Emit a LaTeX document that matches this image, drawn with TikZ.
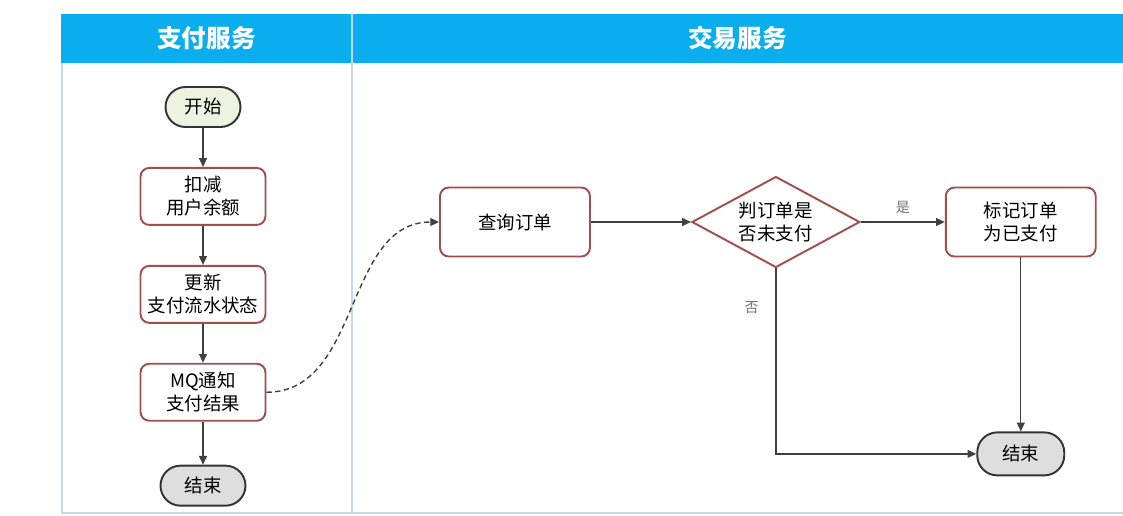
\documentclass[tikz,border=0pt]{standalone}
\usepackage{fontspec}
\setmainfont{Noto Sans CJK SC}
\usetikzlibrary{shapes.geometric, arrows.meta, positioning}
\definecolor{laneblue}{RGB}{10,174,238}
\definecolor{laneline}{RGB}{200,214,232}
\definecolor{boxred}{RGB}{160,78,78}
\definecolor{startgreen}{RGB}{238,243,225}
\definecolor{endgray}{RGB}{222,222,222}

\begin{document}
\begin{tikzpicture}[
    x=0.02cm, y=-0.02cm,
    node distance = 0.78cm and 2cm,
    every node/.style={font=\fontsize{10.5}{13}\selectfont},
    lanehead/.style={fill=laneblue, text=white, minimum height=0.98cm, inner sep=0pt,
                     font=\fontsize{14}{16}\selectfont\bfseries},
    blk/.style={draw=boxred, fill=white, rounded corners=5pt, align=center,
                minimum width=2.5cm, minimum height=1.14cm, line width=1.1pt, inner sep=1pt},
    wideblk/.style={blk, minimum width=3cm, minimum height=1.38cm},
    judge/.style={diamond, draw=boxred, fill=white, align=center, aspect=1.8,
                  minimum width=3.36cm, minimum height=1.82cm, inner sep=1pt, line width=1.1pt},
    term/.style={draw=black!80, rounded corners=0.4cm, minimum height=0.8cm, line width=1.1pt},
    line/.style={draw=black!75, -{Triangle[length=5pt,width=4.5pt]}, line width=0.8pt},
    msg/.style={line, dash pattern=on 3pt off 2pt},
    tag/.style={text=black!55, font=\fontsize{8}{10}\selectfont}
]
\useasboundingbox (0,0) rectangle (1123,515);

% -------- Swimlanes: header band, frame, divider --------
\node[lanehead, minimum width=5.82cm]  (payhead)   at (206.5,38.5) {支付服务};
\node[lanehead, minimum width=15.42cm] (tradehead) at (737.5,38.5) {交易服务};
\draw[laneline, line width=1.2pt] (62,63) -- (62,513) -- (1123,513);
\draw[laneline, line width=1.2pt] (352,14) -- (352,513);

% -------- Payment service (top to bottom) --------
\node[term, fill=startgreen, minimum width=1.5cm] (start) at (203,107) {开始};
\node[blk, below=of start]  (deduct) {扣减\\用户余额};
\node[blk, below=of deduct] (update) {更新\\支付流水状态};
\node[blk, below=of update] (notify) {MQ通知\\支付结果};
\node[term, fill=endgray, minimum width=1.7cm, below=0.86cm of notify] (payend) {结束};

% -------- Trade service (left to right) --------
\node[wideblk] (query) at (515,222) {查询订单};
\node[judge, right=2cm of query]   (check) {判订单是\\否未支付};
\node[wideblk, right=1.68cm of check] (mark) {标记订单\\为已支付};
\node[term, fill=endgray, minimum width=1.74cm, minimum height=0.86cm,
      below=3.48cm of mark] (tradeend) {结束};

% -------- Sequential flow --------
\draw[line] (start) -- (deduct);
\draw[line] (deduct) -- (update);
\draw[line] (update) -- (notify);
\draw[line] (notify) -- (payend);
\draw[line] (query) -- (check);
\draw[line] (check) -- node[tag, above=1pt] {是} (mark);
\draw[line] (mark) -- (tradeend);
\draw[line] (check.south) |- node[tag, pos=0.105, left=6pt] {否} (tradeend.west);

% -------- MQ message across lanes --------
\draw[msg] (notify.east) to[out=0, in=180] (query.west);

\end{tikzpicture}
\end{document}
